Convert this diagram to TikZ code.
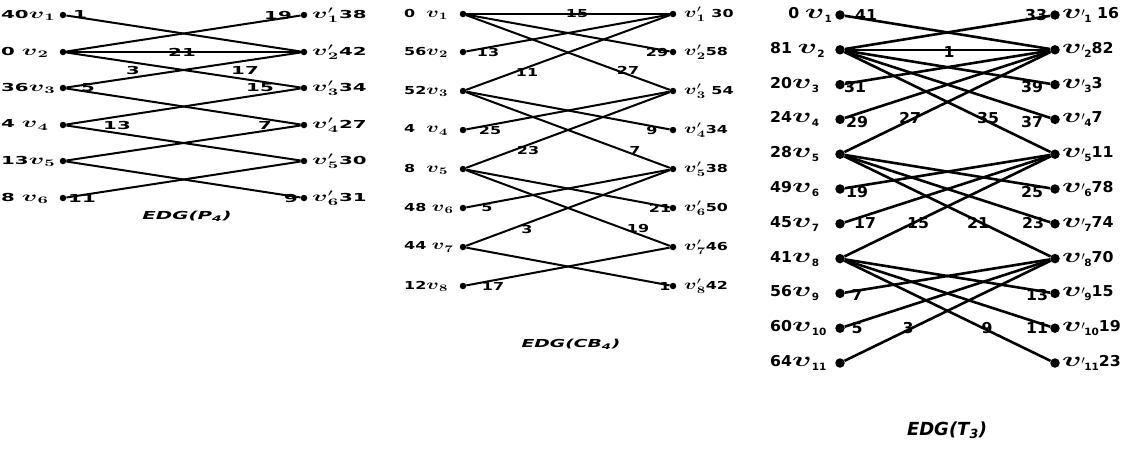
\documentclass[tikz,border=0pt]{standalone}
\usepackage{fontspec}
\usepackage{bm}
\usepackage{graphicx}
\setmainfont{DejaVu Sans}
\newcommand{\AV}[4]{{\fontsize{#1}{#1}\selectfont$\hbox{\scalebox{#2}[1]{$\bm{v}$}}#3_{#4}$}}
\newcommand{\PT}[1]{\scalebox{1.8}[1]{\fontsize{11}{11}\selectfont\bfseries #1}}
\newcommand{\CT}[1]{\scalebox{1.45}[1]{\fontsize{11}{11}\selectfont\bfseries #1}}
\newcommand{\TT}[1]{\scalebox{1.05}[1]{\fontsize{15}{15}\selectfont\bfseries #1}}
\newcommand{\Pv}[1]{\AV{14}{1}{}{\bm{#1}}}
\newcommand{\Pw}[1]{\AV{14}{1}{^{\prime}}{\bm{#1}}}
\newcommand{\Tv}[1]{\hbox{\scalebox{1.5}[1]{\fontsize{22}{22}\selectfont$\bm{v}$}}\raisebox{-4pt}{\fontsize{10}{10}\selectfont\bfseries #1}}
\newcommand{\Tw}[1]{\hbox{\scalebox{1.5}[1]{\fontsize{22}{22}\selectfont$\bm{v}$}}\kern-0.5pt\raisebox{2pt}{\fontsize{12}{12}\selectfont$\prime$}\kern-0.5pt\raisebox{-4pt}{\fontsize{10}{10}\selectfont\bfseries #1}}
\tikzset{
  dotP/.style={circle,fill=black,inner sep=0pt,minimum size=6.5pt},
  dotT/.style={circle,fill=black,inner sep=0pt,minimum size=9.5pt},
  edgeP/.style={line width=2pt},
  edgeT/.style={line width=2.6pt},
  txt/.style={inner sep=0pt},
}
\begin{document}
\begin{tikzpicture}[x=1pt,y=-1pt]
\useasboundingbox (0,0) rectangle (1135,448);
% ---------------- EDG(P4) ----------------
\foreach \i/\y in {1/15,2/52,3/88,4/125,5/161,6/198}{
  \node[dotP] (p\i) at (63,\y) {};
  \node[dotP] (q\i) at (304,\y) {};
}
\node[txt,anchor=west] (pl1) at (1,15)  {\PT{40\Pv{1}}};
\node[txt,anchor=west] (pl2) at (1,52)  {\PT{0 \Pv{2}}};
\node[txt,anchor=west] (pl3) at (1,88)  {\PT{36\Pv{3}}};
\node[txt,anchor=west] (pl4) at (1,125) {\PT{4 \Pv{4}}};
\node[txt,anchor=west] (pl5) at (1,161) {\PT{13\Pv{5}}};
\node[txt,anchor=west] (pl6) at (1,198) {\PT{8 \Pv{6}}};
\node[txt,anchor=west] (pr1) at (312,15)  {\PT{\Pw{1}38}};
\node[txt,anchor=west] (pr2) at (312,52)  {\PT{\Pw{2}42}};
\node[txt,anchor=west] (pr3) at (312,88)  {\PT{\Pw{3}34}};
\node[txt,anchor=west] (pr4) at (312,125) {\PT{\Pw{4}27}};
\node[txt,anchor=west] (pr5) at (312,161) {\PT{\Pw{5}30}};
\node[txt,anchor=west] (pr6) at (312,198) {\PT{\Pw{6}31}};
\foreach \a/\b in {1/2,2/1,2/2,2/3,3/2,3/4,4/3,4/5,5/4,5/6,6/5}{
  \draw[edgeP] (p\a) -- (q\b);
}
\node[txt] (pe1)  at (80,14)   {\PT{1}};
\node[txt] (pe19) at (278,15)  {\PT{19}};
\node[txt] (pe21) at (182,52)  {\PT{21}};
\node[txt] (pe3)  at (133,70)  {\PT{3}};
\node[txt] (pe17) at (245,70)  {\PT{17}};
\node[txt] (pe5)  at (88,88)   {\PT{5}};
\node[txt] (pe15) at (260,88)  {\PT{15}};
\node[txt] (pe13) at (117,125) {\PT{13}};
\node[txt] (pe7)  at (265,125) {\PT{7}};
\node[txt] (pe11) at (82,198)  {\PT{11}};
\node[txt] (pe9)  at (291,198) {\PT{9}};
\node[txt] (ptitle) at (187,216) {\scalebox{1.8}[1]{\fontsize{11}{11}\selectfont\bfseries\itshape EDG(P\textsubscript{4})}};
% ---------------- EDG(CB4) ----------------
\foreach \i/\y in {1/14,2/52,3/91,4/130,5/169,6/208,7/247,8/286}{
  \node[dotP] (c\i) at (463,\y) {};
  \node[dotP] (d\i) at (673,\y) {};
}
\node[txt,anchor=west] (cl1) at (404,14)  {\CT{0\ \ \Pv{1}}};
\node[txt,anchor=west] (cl2) at (404,52)  {\CT{56\Pv{2}}};
\node[txt,anchor=west] (cl3) at (404,91)  {\CT{52\Pv{3}}};
\node[txt,anchor=west] (cl4) at (404,130) {\CT{4\ \ \Pv{4}}};
\node[txt,anchor=west] (cl5) at (404,169) {\CT{8\ \ \Pv{5}}};
\node[txt,anchor=west] (cl6) at (404,208) {\CT{48 \Pv{6}}};
\node[txt,anchor=west] (cl7) at (404,247) {\CT{44 \Pv{7}}};
\node[txt,anchor=west] (cl8) at (404,286) {\CT{12\Pv{8}}};
\node[txt,anchor=west] (cr1) at (684,14)  {\CT{\Pw{1} 30}};
\node[txt,anchor=west] (cr2) at (684,52)  {\CT{\Pw{2}58}};
\node[txt,anchor=west] (cr3) at (684,91)  {\CT{\Pw{3} 54}};
\node[txt,anchor=west] (cr4) at (684,130) {\CT{\Pw{4}34}};
\node[txt,anchor=west] (cr5) at (684,169) {\CT{\Pw{5}38}};
\node[txt,anchor=west] (cr6) at (684,208) {\CT{\Pw{6}50}};
\node[txt,anchor=west] (cr7) at (684,247) {\CT{\Pw{7}46}};
\node[txt,anchor=west] (cr8) at (684,286) {\CT{\Pw{8}42}};
\foreach \a/\b in {1/1,1/2,1/3,2/1,3/1,3/4,3/5,4/3,5/3,5/6,5/7,6/5,7/5,7/8,8/7}{
  \draw[edgeP] (c\a) -- (d\b);
}
\node[txt] (ce15) at (577,14)  {\CT{15}};
\node[txt] (ce13) at (488,52)  {\CT{13}};
\node[txt] (ce29) at (657,52)  {\CT{29}};
\node[txt] (ce11) at (527,72)  {\CT{11}};
\node[txt] (ce27) at (628,70)  {\CT{27}};
\node[txt] (ce25) at (490,130) {\CT{25}};
\node[txt] (ce9)  at (652,130) {\CT{9}};
\node[txt] (ce23) at (528,150) {\CT{23}};
\node[txt] (ce7)  at (635,150) {\CT{7}};
\node[txt] (ce5)  at (487,208) {\CT{5}};
\node[txt] (ce21) at (660,208) {\CT{21}};
\node[txt] (ce3)  at (527,229) {\CT{3}};
\node[txt] (ce19) at (638,228) {\CT{19}};
\node[txt] (ce17) at (493,286) {\CT{17}};
\node[txt] (ce1)  at (665,286) {\CT{1}};
\node[txt] (ctitle) at (571,344) {\scalebox{1.7}[1]{\fontsize{11}{11}\selectfont\bfseries\itshape EDG(CB\textsubscript{4})}};
% ---------------- EDG(T3) ----------------
\foreach \i in {1,...,11}{
  \pgfmathsetmacro{\yy}{15+34.8*(\i-1)}
  \node[dotT] (t\i) at (840,\yy) {};
  \node[dotT] (u\i) at (1055,\yy) {};
}
\node[txt,anchor=east] (tl1) at (832,15) {\TT{0 \Tv{1}}};
\node[txt,anchor=west] (tl2) at (770,49.8) {\TT{81 \Tv{2}}};
\node[txt,anchor=west] (tl3) at (770,84.6) {\TT{20\Tv{3}}};
\node[txt,anchor=west] (tl4) at (770,119.4) {\TT{24\Tv{4}}};
\node[txt,anchor=west] (tl5) at (770,154.2) {\TT{28\Tv{5}}};
\node[txt,anchor=west] (tl6) at (770,189) {\TT{49\Tv{6}}};
\node[txt,anchor=west] (tl7) at (770,223.8) {\TT{45\Tv{7}}};
\node[txt,anchor=west] (tl8) at (770,258.6) {\TT{41\Tv{8}}};
\node[txt,anchor=west] (tl9) at (770,293.4) {\TT{56\Tv{9}}};
\node[txt,anchor=west] (tl10) at (770,328.2) {\TT{60\Tv{10}}};
\node[txt,anchor=west] (tl11) at (770,363) {\TT{64\Tv{11}}};
\node[txt,anchor=west] (tr1) at (1062,15) {\TT{\Tw{1} 16}};
\node[txt,anchor=west] (tr2) at (1062,49.8) {\TT{\Tw{2}82}};
\node[txt,anchor=west] (tr3) at (1062,84.6) {\TT{\Tw{3}3}};
\node[txt,anchor=west] (tr4) at (1062,119.4) {\TT{\Tw{4}7}};
\node[txt,anchor=west] (tr5) at (1062,154.2) {\TT{\Tw{5}11}};
\node[txt,anchor=west] (tr6) at (1062,189) {\TT{\Tw{6}78}};
\node[txt,anchor=west] (tr7) at (1062,223.8) {\TT{\Tw{7}74}};
\node[txt,anchor=west] (tr8) at (1062,258.6) {\TT{\Tw{8}70}};
\node[txt,anchor=west] (tr9) at (1062,293.4) {\TT{\Tw{9}15}};
\node[txt,anchor=west] (tr10) at (1062,328.2) {\TT{\Tw{10}19}};
\node[txt,anchor=west] (tr11) at (1062,363) {\TT{\Tw{11}23}};
\foreach \a/\b in {1/2,2/1,2/2,2/3,2/4,2/5,3/2,4/2,5/2,5/6,5/7,5/8,6/5,7/5,8/5,8/9,8/10,8/11,9/8,10/8,11/8}{
  \draw[edgeT] (t\a) -- (u\b);
}
\node[txt] (te41) at (866,15)  {\TT{41}};
\node[txt] (te33) at (1036,15) {\TT{33}};
\node[txt] (te1)  at (949,52)  {\TT{1}};
\node[txt] (te31) at (855,87)  {\TT{31}};
\node[txt] (te39) at (1032,87) {\TT{39}};
\node[txt] (te29) at (857,122) {\TT{29}};
\node[txt] (te27) at (910,118) {\TT{27}};
\node[txt] (te35) at (988,118) {\TT{35}};
\node[txt] (te37) at (1032,122) {\TT{37}};
\node[txt] (te19) at (857,192) {\TT{19}};
\node[txt] (te25) at (1032,192) {\TT{25}};
\node[txt] (te17) at (865,223) {\TT{17}};
\node[txt] (te15) at (918,223) {\TT{15}};
\node[txt] (te21) at (978,223) {\TT{21}};
\node[txt] (te23) at (1033,223) {\TT{23}};
\node[txt] (te7)  at (857,295) {\TT{7}};
\node[txt] (te13) at (1037,295) {\TT{13}};
\node[txt] (te5)  at (857,328) {\TT{5}};
\node[txt] (te3)  at (908,328) {\TT{3}};
\node[txt] (te9)  at (987,328) {\TT{9}};
\node[txt] (te11) at (1037,328) {\TT{11}};
\node[txt] (ttitle) at (947,430) {\fontsize{18}{18}\selectfont\bfseries\itshape EDG(T\textsubscript{3})};
\end{tikzpicture}
\end{document}
